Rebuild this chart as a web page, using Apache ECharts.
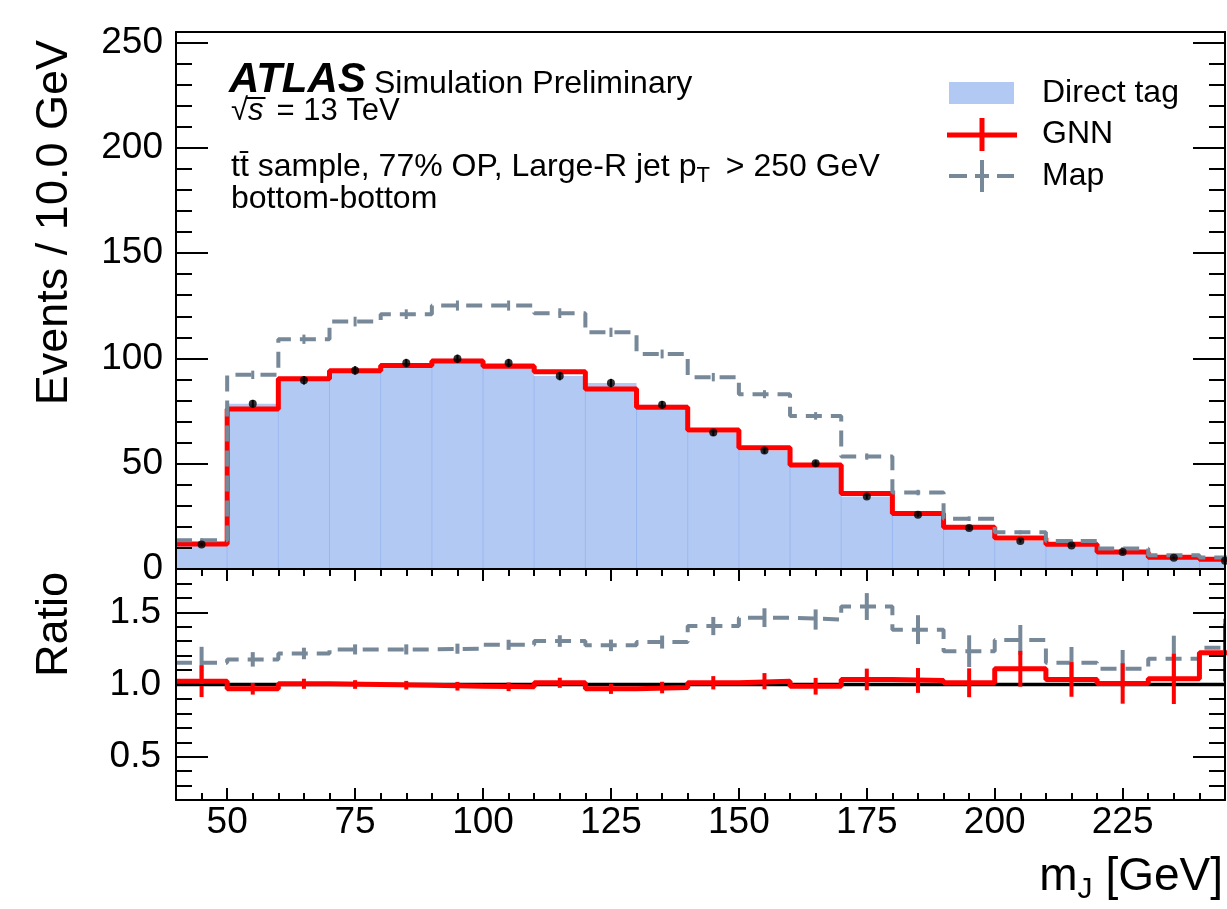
<!DOCTYPE html>
<html>
<head>
<meta charset="utf-8">
<script src="https://cdn.jsdelivr.net/npm/echarts@6/dist/echarts.min.js"></script>
<style>
  html, body { margin: 0; padding: 0; background: #fff; }
  #chart { width: 1227px; height: 909px; }
</style>
</head>
<body>
<div id="chart"></div>
<script>
// bins: 10 GeV wide, low edges
const binLow = [40, 50, 60, 70, 80, 90, 100, 110, 120, 130, 140, 150, 160, 170, 180, 190, 200, 210, 220, 230, 240];
const binWidth = 10;

// upper panel (events / bin)
const direct = [11.6, 78.5, 89.6, 94.3, 97.8, 99.8, 97.8, 91.6, 88.3, 78.0, 64.8, 56.3, 50.2, 34.4, 25.8, 19.5, 13.3, 11.2, 8.1, 5.4, 3.9];
const directErr = [0.8, 1.8, 2.0, 2.0, 2.0, 2.0, 2.0, 2.0, 2.0, 1.8, 1.6, 1.5, 1.4, 1.2, 1.0, 0.9, 0.8, 0.7, 0.6, 0.5, 0.4];
const gnn = [11.9, 76.0, 90.3, 94.2, 96.6, 98.8, 96.3, 93.7, 85.5, 76.8, 66.0, 57.6, 49.4, 35.8, 26.4, 19.8, 14.7, 11.7, 8.1, 5.6, 4.6];
const map = [13.6, 92.2, 109.1, 117.5, 121.0, 125.1, 125.1, 121.5, 112.4, 102.1, 91.1, 83.0, 72.7, 53.4, 36.3, 23.9, 17.4, 13.3, 9.7, 6.5, 5.5];
const mapErr = [1.0, 2.0, 2.2, 2.3, 2.3, 2.4, 2.4, 2.3, 2.2, 2.1, 2.0, 1.9, 1.8, 1.5, 1.3, 1.1, 0.9, 0.8, 0.7, 0.6, 0.5];

// ratio panel (x / Direct tag)
const gnnRatio = [1.023, 0.970, 1.005, 1.000, 0.995, 0.988, 0.984, 1.012, 0.970, 0.979, 1.012, 1.023, 0.988, 1.035, 1.028, 1.012, 1.109, 1.035, 1.007, 1.039, 1.220];
const gnnRatioErr = [0.11, 0.04, 0.035, 0.03, 0.03, 0.03, 0.03, 0.035, 0.035, 0.04, 0.046, 0.056, 0.058, 0.075, 0.086, 0.10, 0.124, 0.12, 0.14, 0.174, 0.20];
const mapRatio = [1.151, 1.174, 1.215, 1.243, 1.243, 1.248, 1.275, 1.301, 1.271, 1.294, 1.405, 1.463, 1.450, 1.540, 1.380, 1.231, 1.308, 1.150, 1.109, 1.178, 1.255];
const mapRatioErr = [0.11, 0.05, 0.04, 0.035, 0.035, 0.035, 0.035, 0.04, 0.04, 0.045, 0.063, 0.065, 0.07, 0.093, 0.10, 0.11, 0.104, 0.11, 0.13, 0.16, 0.20];

// tick labels
const xTicks = [50, 75, 100, 125, 150, 175, 200, 225];
const yTicks = [0, 50, 100, 150, 200, 250];
const ratioTicks = [0.5, 1.0, 1.5];

const X_MIN = 40, X_MAX = 245;
const Y_MAX = 255;
const R_MIN = 0.2, R_MAX = 1.8;

const xMinor = [], yMinor = [], ratioMinor = [];
for (let v = X_MIN; v <= X_MAX; v += 5) if (!xTicks.includes(v)) xMinor.push(v);
for (let v = 0; v <= Y_MAX; v += 10) if (v % 50 !== 0) yMinor.push(v);
for (let k = 2; k <= 18; k++) if (k % 5 !== 0) ratioMinor.push(k / 10);

const BLUE = '#b2c9f3', BLUE_EDGE = '#98b7ef', RED = '#ff0000', GREY = '#778899';
const FONT = "'Liberation Sans', Arial, Helvetica, sans-serif";

const chart = echarts.init(document.getElementById('chart'));

const stepData = vals => binLow.map((x, i) => [x, vals[i]]).concat([[binLow[binLow.length - 1] + binWidth, vals[vals.length - 1]]]);

function xAx(grid, pos, ticks, len, extra) {
  return Object.assign({
    type: 'value', gridIndex: grid, position: pos, min: X_MIN, max: X_MAX, z: 10,
    axisLine: { show: false, onZero: false },
    axisTick: ticks ? { show: true, inside: true, length: len, customValues: ticks, lineStyle: { color: '#000', width: 2 } } : { show: false },
    axisLabel: { show: false },
    splitLine: { show: false }
  }, extra || {});
}
function yAx(grid, pos, min, max, ticks, len, extra) {
  return Object.assign({
    type: 'value', gridIndex: grid, position: pos, min: min, max: max, z: 10,
    axisLine: { show: false },
    axisTick: { show: true, inside: true, length: len, customValues: ticks, lineStyle: { color: '#000', width: 2 } },
    axisLabel: { show: false },
    splitLine: { show: false }
  }, extra || {});
}
const frameLine = { show: true, onZero: false, lineStyle: { color: '#000', width: 2 } };
const labelStyle = { color: '#000', fontFamily: FONT, fontSize: 37 };

function errorBars(values, errs, color, width, xi, yi, z) {
  return {
    type: 'custom', xAxisIndex: xi, yAxisIndex: yi, z: z, clip: true,
    data: binLow.map((x, i) => [x + binWidth / 2, values[i] - errs[i], values[i] + errs[i]]),
    renderItem: (params, api) => {
      const lo = api.coord([api.value(0), api.value(1)]);
      const hi = api.coord([api.value(0), api.value(2)]);
      return { type: 'line', shape: { x1: lo[0], y1: lo[1], x2: hi[0], y2: hi[1] }, style: { stroke: color, lineWidth: width } };
    }
  };
}

// text helpers
const ctx = document.createElement('canvas').getContext('2d');
const tw = (text, font) => { ctx.font = font; return ctx.measureText(text).width; };
const f = size => `${size}px ${FONT}`;
const txt = (x, y, text, font, extra) => ({
  type: 'text', x: x, y: y, z: 100,
  style: Object.assign({ text: text, font: font, fill: '#000', align: 'left', verticalAlign: 'middle' }, extra || {})
});

const graphics = [];
// ATLAS label
graphics.push(txt(229, 80, 'ATLAS', `italic bold 42px ${FONT}`));
graphics.push(txt(374, 84, 'Simulation Preliminary', f(32)));
// sqrt(s) line
const sqX = 231, sqY = 111;
const wSq = tw('\u221A', f(31));
graphics.push(txt(sqX, sqY, '\u221A', f(31)));
graphics.push(txt(sqX + wSq, sqY, 's', `italic 31px ${FONT}`));
const wS = tw('s', `italic 31px ${FONT}`);
graphics.push({ type: 'line', z: 100, shape: { x1: sqX + wSq - 1, y1: 98, x2: sqX + wSq + wS + 2, y2: 98 }, style: { stroke: '#000', lineWidth: 2 } });
graphics.push(txt(sqX + wSq + wS + 13, sqY, '= 13 TeV', f(31)));
// sample line with p_T
const l3a = 'tt\u0304 sample, 77% OP, Large-R jet p';
const w3a = tw(l3a, f(32));
graphics.push(txt(231, 167, l3a, f(32)));
graphics.push(txt(231 + w3a, 176, 'T', f(22)));
graphics.push(txt(231 + w3a + tw('T', f(22)) + 16, 167, '> 250 GeV', f(32)));
graphics.push(txt(231, 199, 'bottom-bottom', f(32)));

// legend
graphics.push({ type: 'rect', z: 100, shape: { x: 949, y: 82, width: 65, height: 22 }, style: { fill: BLUE } });
graphics.push({ type: 'line', z: 100, shape: { x1: 947, y1: 135, x2: 1017, y2: 135 }, style: { stroke: RED, lineWidth: 5 } });
graphics.push({ type: 'line', z: 100, shape: { x1: 982, y1: 118, x2: 982, y2: 151 }, style: { stroke: RED, lineWidth: 5 } });
[[949, 967], [975, 989], [997, 1014]].forEach(s => graphics.push({ type: 'line', z: 100, shape: { x1: s[0], y1: 176, x2: s[1], y2: 176 }, style: { stroke: GREY, lineWidth: 4 } }));
graphics.push({ type: 'line', z: 100, shape: { x1: 982, y1: 160, x2: 982, y2: 192 }, style: { stroke: GREY, lineWidth: 4 } });
graphics.push(txt(1042, 93, 'Direct tag', f(32)));
graphics.push(txt(1042, 134, 'GNN', f(32)));
graphics.push(txt(1042, 176, 'Map', f(32)));

// axis titles
graphics.push({ type: 'text', x: 55, y: 40, rotation: Math.PI / 2, z: 100, style: { text: 'Events / 10.0 GeV', font: f(45), fill: '#000', align: 'right', verticalAlign: 'middle' } });
graphics.push({ type: 'text', x: 55, y: 572, rotation: Math.PI / 2, z: 100, style: { text: 'Ratio', font: f(45), fill: '#000', align: 'right', verticalAlign: 'middle' } });
const wm = tw('m', f(46)), wJ = tw('J', f(30)), wG = tw(' [GeV]', f(46));
const mx = 1223 - (wm + wJ + wG);
graphics.push(txt(mx, 877, 'm', f(46)));
graphics.push(txt(mx + wm, 890, 'J', f(30)));
graphics.push(txt(mx + wm + wJ, 877, ' [GeV]', f(46)));

chart.setOption({
  animation: false,
  backgroundColor: '#fff',
  grid: [
    { left: 176, top: 32, width: 1049, height: 537 },
    { left: 176, top: 569, width: 1049, height: 231 }
  ],
  xAxis: [
    xAx(0, 'bottom', null, 0, { axisLine: frameLine }),
    xAx(0, 'top', null, 0, { axisLine: frameLine }),
    xAx(1, 'bottom', xTicks, 12, {
      axisLine: frameLine,
      axisLabel: { show: true, customValues: xTicks, margin: 4, ...labelStyle }
    }),
    xAx(1, 'bottom', xMinor, 7),
    xAx(1, 'top', xTicks, 12, { axisLine: frameLine }),
    xAx(1, 'top', xMinor, 7)
  ],
  yAxis: [
    yAx(0, 'left', 0, Y_MAX, yTicks, 32, {
      axisLine: frameLine,
      axisLabel: { show: true, customValues: yTicks, margin: 13, ...labelStyle }
    }),
    yAx(0, 'left', 0, Y_MAX, yMinor, 16),
    yAx(0, 'right', 0, Y_MAX, yTicks, 32, { axisLine: frameLine }),
    yAx(0, 'right', 0, Y_MAX, yMinor, 16),
    yAx(1, 'left', R_MIN, R_MAX, ratioTicks, 32, {
      axisLine: frameLine,
      axisLabel: { show: true, customValues: ratioTicks, margin: 15, formatter: v => Number(v).toFixed(1), ...labelStyle }
    }),
    yAx(1, 'left', R_MIN, R_MAX, ratioMinor, 16),
    yAx(1, 'right', R_MIN, R_MAX, ratioTicks, 32, { axisLine: frameLine }),
    yAx(1, 'right', R_MIN, R_MAX, ratioMinor, 16)
  ],
  graphic: graphics,
  series: [
    {
      name: 'Direct tag', type: 'custom', xAxisIndex: 0, yAxisIndex: 0, z: 1, clip: true,
      data: binLow.map((x, i) => [x, x + binWidth, direct[i]]),
      renderItem: (params, api) => {
        const p0 = api.coord([api.value(0), api.value(2)]);
        const p1 = api.coord([api.value(1), 0]);
        const cs = params.coordSys;
        const rect = echarts.graphic.clipRectByRect(
          { x: p0[0], y: p0[1], width: p1[0] - p0[0], height: p1[1] - p0[1] },
          { x: cs.x, y: cs.y, width: cs.width, height: cs.height });
        if (!rect) return null;
        const children = [{ type: 'rect', shape: rect, style: { fill: BLUE } }];
        if (api.value(0) > X_MIN) {
          children.push({ type: 'line', shape: { x1: p0[0], y1: p0[1], x2: p0[0], y2: p1[1] }, style: { stroke: BLUE_EDGE, lineWidth: 1 } });
        }
        return { type: 'group', children: children };
      }
    },
    {
      name: 'GNN', type: 'line', xAxisIndex: 0, yAxisIndex: 0, z: 3, step: 'end',
      data: stepData(gnn), showSymbol: false, symbol: 'none',
      lineStyle: { color: RED, width: 5 }
    },
    {
      name: 'Map', type: 'line', xAxisIndex: 0, yAxisIndex: 0, z: 4, step: 'end',
      data: stepData(map), showSymbol: false, symbol: 'none',
      lineStyle: { color: GREY, width: 4, type: [16, 9] }
    },
    errorBars(map, mapErr, GREY, 3, 0, 0, 4),
    errorBars(direct, directErr, '#000', 2, 0, 0, 6),
    {
      name: 'Direct points', type: 'scatter', xAxisIndex: 0, yAxisIndex: 0, z: 6,
      data: binLow.map((x, i) => [x + binWidth / 2, direct[i]]),
      symbol: 'circle', symbolSize: 8, itemStyle: { color: '#000' }
    },
    // ratio panel
    {
      name: 'unity', type: 'line', xAxisIndex: 2, yAxisIndex: 4, z: 2,
      data: [[X_MIN, 1], [X_MAX, 1]], showSymbol: false, symbol: 'none',
      lineStyle: { color: '#000', width: 3.5 }
    },
    {
      name: 'Map ratio', type: 'line', xAxisIndex: 2, yAxisIndex: 4, z: 3, step: 'end',
      data: stepData(mapRatio), showSymbol: false, symbol: 'none',
      lineStyle: { color: GREY, width: 4, type: [16, 9] }
    },
    errorBars(mapRatio, mapRatioErr, GREY, 4, 2, 4, 3),
    {
      name: 'GNN ratio', type: 'line', xAxisIndex: 2, yAxisIndex: 4, z: 4, step: 'end',
      data: stepData(gnnRatio), showSymbol: false, symbol: 'none',
      lineStyle: { color: RED, width: 5 }
    },
    errorBars(gnnRatio, gnnRatioErr, RED, 4, 2, 4, 4)
  ]
});
</script>
</body>
</html>
